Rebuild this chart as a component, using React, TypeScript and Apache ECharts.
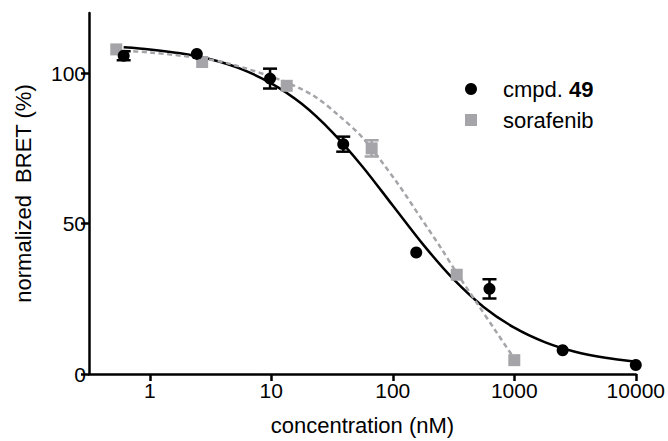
import React, { useEffect, useRef } from 'react';
import * as echarts from 'echarts';

// ---- data ----
const xTicks = [1, 10, 100, 1000, 10000];
const yTicks = [0, 50, 100];

const cmpdConc = [0.61, 2.44, 9.77, 39.1, 156, 625, 2500, 10000];
const cmpdMean = [105.8, 106.4, 98.2, 76.4, 40.4, 28.3, 7.9, 3.0];
const cmpdErr = [1.5, 0, 3.3, 2.5, 0, 3.2, 0, 0];

const soraConc = [0.53, 2.7, 13.4, 67, 336, 1000];
const soraMean = [107.9, 103.7, 95.8, 75.0, 33.0, 4.6];
const soraErr = [0, 0, 0, 2.7, 0, 0];

// fitted curves
const cmpdFitX = [0.61, 1, 1.78, 3.16, 5.62, 10, 17.8, 31.6, 56.2, 100, 178, 316, 562, 1000, 1780, 3160, 5620, 10000];
const cmpdFitY = [108.6, 107.9, 106.6, 104.6, 101.4, 96.6, 89.8, 80.5, 69.0, 56.0, 43.0, 31.5, 22.2, 15.4, 10.6, 7.4, 5.4, 4.1];

const soraFitX = [0.53, 1, 2.7, 4.56, 11.8, 22.1, 36.7, 57.1, 107.6, 167.5, 250, 336, 500, 700, 1000];
const soraFitY = [107.5, 106.9, 104.9, 103.1, 97.8, 92.6, 85.6, 78.3, 63.8, 52.3, 41.8, 33.6, 23.2, 14.4, 5.1];

const BLACK = '#000000';
const GRAY = '#a5a5a9';
const FONT = '"Liberation Sans", Arial, Helvetica, sans-serif';

function errorSeries(name: string, xs: number[], ys: number[], es: number[], color: string) {
  return {
    type: 'custom',
    name,
    z: 3,
    silent: true,
    data: xs.map((x, i) => [x, ys[i] - es[i], ys[i] + es[i]]),
    renderItem: (params: any, api: any) => {
      const x = api.value(0);
      const lo = api.value(1);
      const hi = api.value(2);
      if (hi - lo <= 0) return null;
      const pLo = api.coord([x, lo]);
      const pHi = api.coord([x, hi]);
      const half = 7;
      const style = { stroke: color, lineWidth: 2.5 };
      return {
        type: 'group',
        children: [
          { type: 'line', shape: { x1: pLo[0], y1: pLo[1], x2: pHi[0], y2: pHi[1] }, style },
          { type: 'line', shape: { x1: pLo[0] - half, y1: pLo[1], x2: pLo[0] + half, y2: pLo[1] }, style },
          { type: 'line', shape: { x1: pHi[0] - half, y1: pHi[1], x2: pHi[0] + half, y2: pHi[1] }, style },
        ],
      };
    },
  };
}

export default function App() {
  const ref = useRef<HTMLDivElement>(null);

  useEffect(() => {
    if (!ref.current) return;
    const chart = echarts.init(ref.current, undefined, { renderer: 'svg' });
    const axisText = { color: BLACK, fontSize: 21, fontFamily: FONT };
    chart.setOption({
      animation: false,
      backgroundColor: '#ffffff',
      grid: { left: 89, right: 32, top: 13, bottom: 64 },
      legend: {
        orient: 'vertical',
        left: 460,
        top: 73,
        itemWidth: 54,
        itemHeight: 12,
        itemGap: 9,
        symbolKeepAspect: true,
        selectedMode: false,
        data: [
          { name: 'cmpd. 49', icon: 'circle' },
          { name: 'sorafenib', icon: 'path://M0,0H10V10H0Z' },
        ],
        formatter: (name: string) =>
          name === 'cmpd. 49' ? '{a|cmpd. }{b|49}' : '{a|' + name + '}',
        textStyle: {
          color: BLACK,
          fontSize: 22,
          fontFamily: FONT,
          lineHeight: 22,
          rich: {
            a: { color: BLACK, fontSize: 22, fontFamily: FONT, lineHeight: 22 },
            b: { color: BLACK, fontSize: 22, fontFamily: FONT, lineHeight: 22, fontWeight: 'bold' },
          },
        },
      },
      xAxis: {
        type: 'log',
        logBase: 10,
        min: 0.3162,
        max: 10000,
        name: 'concentration (nM)',
        nameLocation: 'middle',
        nameGap: 40,
        nameTextStyle: { color: BLACK, fontSize: 22, fontFamily: FONT },
        splitLine: { show: false },
        axisLine: { show: true, lineStyle: { color: BLACK, width: 2.5 } },
        axisTick: { show: true, length: 7, lineStyle: { color: BLACK, width: 2.5 }, customValues: xTicks },
        axisLabel: { ...axisText, margin: 6, customValues: xTicks, formatter: (v: number) => String(Math.round(v)) },
      },
      yAxis: {
        type: 'value',
        min: 0,
        max: 120,
        name: 'normalized  BRET (%)',
        nameLocation: 'middle',
        nameGap: 55,
        nameTextStyle: { color: BLACK, fontSize: 22, fontFamily: FONT },
        splitLine: { show: false },
        axisLine: { show: true, lineStyle: { color: BLACK, width: 2.5 } },
        axisTick: { show: true, length: 8, lineStyle: { color: BLACK, width: 2.5 }, customValues: yTicks },
        axisLabel: { ...axisText, margin: 3, customValues: yTicks },
      },
      series: [
        {
          type: 'line',
          name: 'cmpd fit',
          data: cmpdFitX.map((x, i) => [x, cmpdFitY[i]]),
          showSymbol: false,
          smooth: 0.3,
          z: 2,
          silent: true,
          lineStyle: { color: BLACK, width: 2.5 },
        },
        {
          type: 'line',
          name: 'sorafenib fit',
          data: soraFitX.map((x, i) => [x, soraFitY[i]]),
          showSymbol: false,
          smooth: 0.3,
          z: 2,
          silent: true,
          lineStyle: { color: GRAY, width: 2.5, type: [5, 3.5] },
        },
        errorSeries('cmpd err', cmpdConc, cmpdMean, cmpdErr, BLACK),
        errorSeries('sora err', soraConc, soraMean, soraErr, GRAY),
        {
          type: 'scatter',
          name: 'sorafenib',
          symbol: 'rect',
          symbolSize: 12,
          z: 4,
          itemStyle: { color: GRAY, opacity: 1 },
          data: soraConc.map((x, i) => [x, soraMean[i]]),
        },
        {
          type: 'scatter',
          name: 'cmpd. 49',
          symbol: 'circle',
          symbolSize: 12,
          z: 5,
          itemStyle: { color: BLACK, opacity: 1 },
          data: cmpdConc.map((x, i) => [x, cmpdMean[i]]),
        },
      ],
    });
    return () => chart.dispose();
  }, []);

  return <div ref={ref} style={{ width: 668, height: 441, position: 'absolute', left: 0, top: 0 }} />;
}
